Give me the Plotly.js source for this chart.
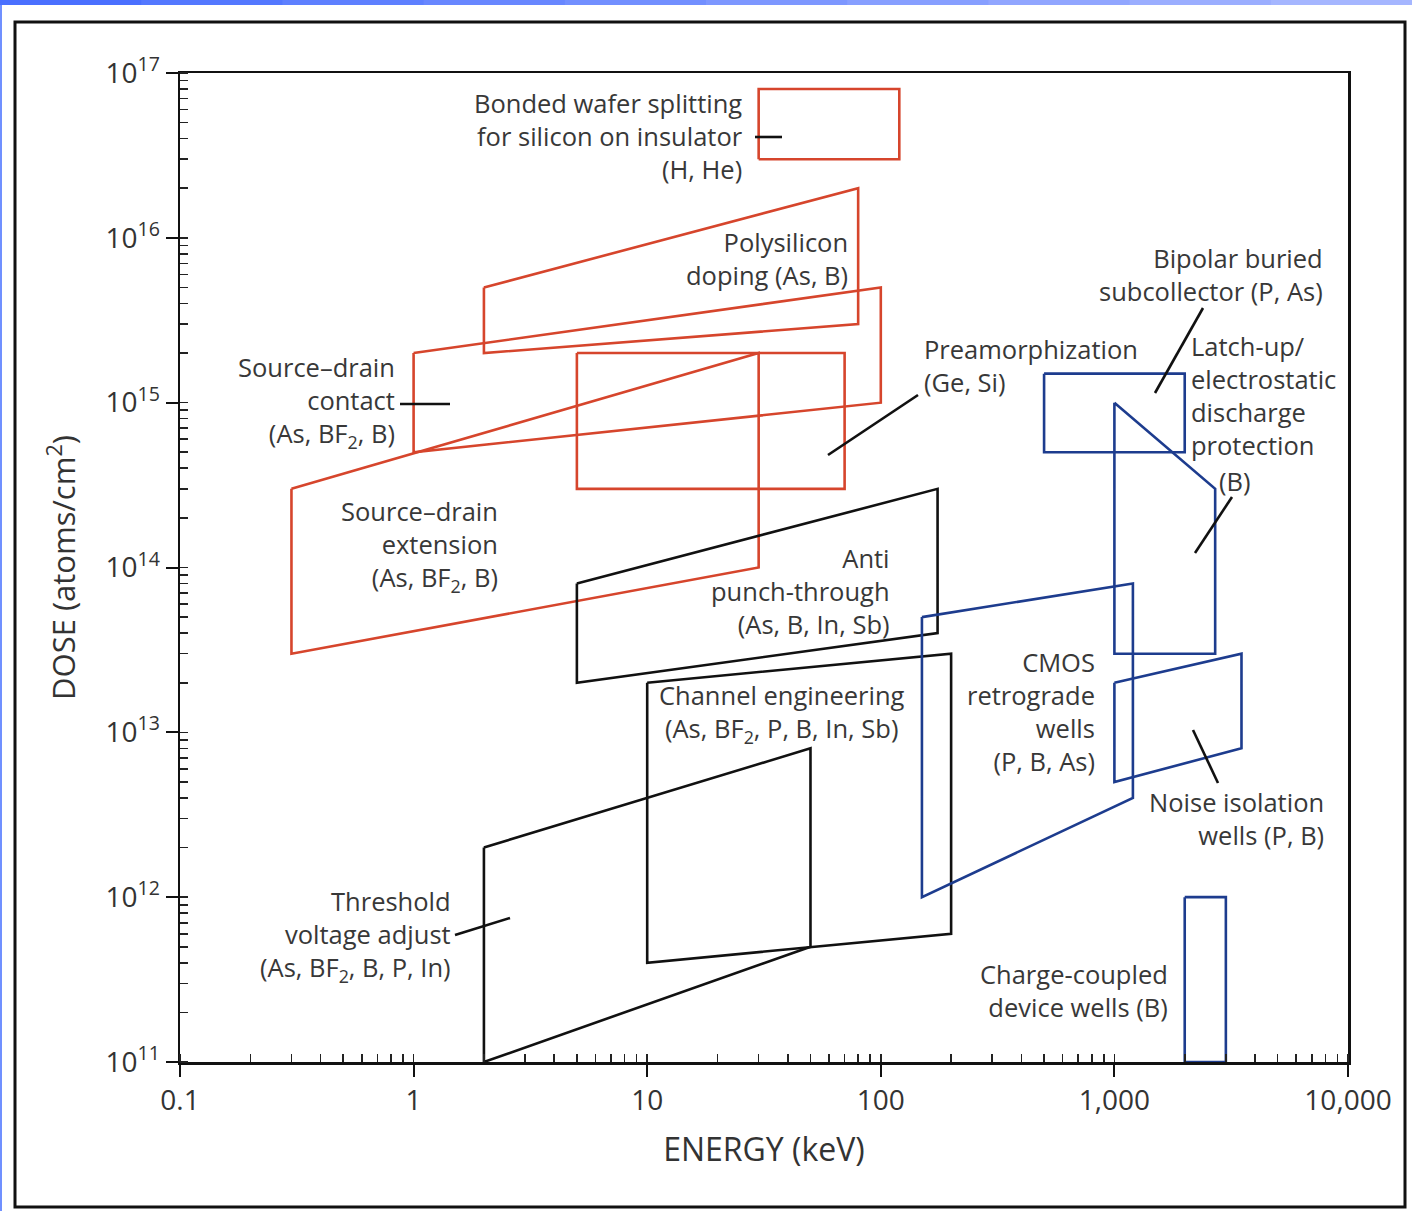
<!DOCTYPE html>
<html><head><meta charset="utf-8">
<script src="https://cdn.plot.ly/plotly-3.0.1.min.js"></script>
<style>html,body{margin:0;padding:0;background:#fff;} #chart{width:1412px;height:1211px;}</style>
</head><body><div id="chart"></div>
<script>
// ---- axis ticks ----
const xTickVals = [0.1, 1, 10, 100, 1000, 10000];
const xTickText = ['0.1', '1', '10', '100', '1,000', '10,000'];
const yTickVals = [1e11, 1e12, 1e13, 1e14, 1e15, 1e16, 1e17];
const yTickText = ['10<sup>11</sup>', '10<sup>12</sup>', '10<sup>13</sup>', '10<sup>14</sup>', '10<sup>15</sup>', '10<sup>16</sup>', '10<sup>17</sup>'];

// ---- process windows: energy (keV) and dose (atoms/cm^2), polygon vertices ----
const bondedEnergy = [30, 120, 120, 30];
const bondedDose = [3e16, 3e16, 8e16, 8e16];
const polyEnergy = [2, 80, 80, 2];
const polyDose = [5e15, 2e16, 3e15, 2e15];
const sdContactEnergy = [1, 100, 100, 1];
const sdContactDose = [2e15, 5e15, 1e15, 5e14];
const sdExtEnergy = [0.3, 30, 30, 0.3];
const sdExtDose = [3e14, 2e15, 1e14, 3e13];
const preamEnergy = [5, 70, 70, 5];
const preamDose = [2e15, 2e15, 3e14, 3e14];
const antiEnergy = [5, 175, 175, 5];
const antiDose = [8e13, 3e14, 4e13, 2e13];
const channelEnergy = [10, 200, 200, 10];
const channelDose = [2e13, 3e13, 6e11, 4e11];
const thresholdEnergy = [2, 50, 50, 2];
const thresholdDose = [2e12, 8e12, 5e11, 1e11];
const bipolarEnergy = [500, 2000, 2000, 500];
const bipolarDose = [1.5e15, 1.5e15, 5e14, 5e14];
const latchEnergy = [1000, 2700, 2700, 1000];
const latchDose = [1e15, 3e14, 3e13, 3e13];
const cmosEnergy = [150, 1200, 1200, 150];
const cmosDose = [5e13, 8e13, 4e12, 1e12];
const noiseEnergy = [1000, 3500, 3500, 1000];
const noiseDose = [2e13, 3e13, 8e12, 5e12];
const ccdEnergy = [2000, 3000, 3000, 2000];
const ccdDose = [1e12, 1e12, 1e11, 1e11];

const RED = '#d6452c', BLUE = '#1d3c8e', BLACK = '#111111';
const FONT = '"Open Sans", sans-serif';

function poly(ex, dy, color, name) {
  return {
    x: ex.concat([ex[0]]), y: dy.concat([dy[0]]), name: name,
    type: 'scatter', mode: 'lines', showlegend: false, hoverinfo: 'skip',
    line: {color: color, width: 2.6}
  };
}

const traces = [
  poly(bondedEnergy, bondedDose, RED, 'Bonded wafer splitting'),
  poly(polyEnergy, polyDose, RED, 'Polysilicon doping'),
  poly(sdContactEnergy, sdContactDose, RED, 'Source-drain contact'),
  poly(sdExtEnergy, sdExtDose, RED, 'Source-drain extension'),
  poly(preamEnergy, preamDose, RED, 'Preamorphization'),
  poly(antiEnergy, antiDose, BLACK, 'Anti punch-through'),
  poly(channelEnergy, channelDose, BLACK, 'Channel engineering'),
  poly(thresholdEnergy, thresholdDose, BLACK, 'Threshold voltage adjust'),
  poly(bipolarEnergy, bipolarDose, BLUE, 'Bipolar buried subcollector'),
  poly(latchEnergy, latchDose, BLUE, 'Latch-up / ESD protection'),
  poly(cmosEnergy, cmosDose, BLUE, 'CMOS retrograde wells'),
  poly(noiseEnergy, noiseDose, BLUE, 'Noise isolation wells'),
  poly(ccdEnergy, ccdDose, BLUE, 'Charge-coupled device wells')
];

// ---- label placement (plot-area geometry) ----
const ML = 180, MT = 73, PW = 1168, PH = 989;
const px = v => (v - ML) / PW;           // pixel column -> paper x
const py = v => (MT + PH - v) / PH;      // pixel row    -> paper y

const TXT = '#383838';
const FS = 25.5;
// each block: text, anchor x (pixel), anchor side, centre row (pixel)
const labelBlocks = [
  {text: 'Bonded wafer splitting<br>for silicon on insulator<br>(H, He)', x: 745, side: 'right', row: 136},
  {text: 'Polysilicon<br>doping (As, B)', x: 850, side: 'right', row: 258},
  {text: 'Source\u2013drain<br>contact<br>(As, BF<sub>2</sub>, B)', x: 397, side: 'right', row: 402},
  {text: 'Source\u2013drain<br>extension<br>(As, BF<sub>2</sub>, B)', x: 500, side: 'right', row: 546},
  {text: 'Preamorphization<br>(Ge, Si)', x: 922, side: 'left', row: 365},
  {text: 'Bipolar buried<br>subcollector (P, As)', x: 1325, side: 'right', row: 274},
  {text: 'Latch-up/<br>electrostatic<br>discharge<br>protection', x: 1189, side: 'left', row: 395},
  {text: '(B)', x: 1235, side: 'center', row: 481},
  {text: 'Anti<br>punch-through<br>(As, B, In, Sb)', x: 892, side: 'right', row: 591},
  {text: 'Channel engineering<br>(As, BF<sub>2</sub>, P, B, In, Sb)', x: 782, side: 'center', row: 714},
  {text: 'CMOS<br>retrograde<br>wells<br>(P, B, As)', x: 1097, side: 'right', row: 711},
  {text: 'Noise isolation<br>wells (P, B)', x: 1326, side: 'right', row: 818},
  {text: 'Threshold<br>voltage adjust<br>(As, BF<sub>2</sub>, B, P, In)', x: 453, side: 'right', row: 936},
  {text: 'Charge-coupled<br>device wells (B)', x: 1170, side: 'right', row: 990}
];
// leader lines: from (x0,y0) near the text to (x1,y1) inside the window, pixels
const leaders = [
  [755, 137, 782, 137],
  [400, 404, 450, 404],
  [918, 395, 828, 455],
  [1203, 308, 1155, 393],
  [1232, 497, 1195, 553],
  [1218, 783, 1193, 730],
  [455, 935, 510, 918]
];

const annotations = labelBlocks.map(b => ({
  text: b.text, x: px(b.x), y: py(b.row), xref: 'paper', yref: 'paper',
  xanchor: b.side, yanchor: 'middle', align: b.side, showarrow: false,
  font: {family: FONT, size: FS, color: TXT}
}));

// decorative frame, top bar and leader lines (paper coordinates)
const shapes = [
  {type: 'rect', xref: 'paper', yref: 'paper', x0: px(15), x1: px(1405), y0: py(1207), y1: py(22),
   line: {color: '#111', width: 3}, fillcolor: 'rgba(0,0,0,0)', layer: 'below'},
  {type: 'rect', xref: 'paper', yref: 'paper', x0: px(0), x1: px(2), y0: py(1211), y1: py(0),
   line: {width: 0}, fillcolor: '#7090ff'}
];
leaders.forEach(l => {
  shapes.push({type: 'line', xref: 'paper', yref: 'paper', x0: px(l[0]), y0: py(l[1]), x1: px(l[2]), y1: py(l[3]),
    line: {color: BLACK, width: 2.6}});
});
const nSeg = 10;
for (let i = 0; i < nSeg; i++) {
  const t = i / (nSeg - 1);
  const r = Math.round(74 + t * (165 - 74)), g = Math.round(112 + t * (182 - 112)), b = 255;
  shapes.push({type: 'rect', xref: 'paper', yref: 'paper',
    x0: px(1412 * i / nSeg), x1: px(1412 * (i + 1) / nSeg + 1), y0: py(5), y1: py(0),
    line: {width: 0}, fillcolor: `rgb(${r},${g},${b})`});
}

const tickFont = {family: FONT, size: 28, color: '#333'};
const layout = {
  width: 1412, height: 1211,
  margin: {l: ML, r: 1412 - ML - PW, t: MT, b: 1211 - MT - PH, pad: 0},
  paper_bgcolor: '#ffffff', plot_bgcolor: '#ffffff',
  showlegend: false, hovermode: false,
  xaxis: {
    type: 'log', range: [-1, 4], showgrid: false, zeroline: false,
    showline: true, linecolor: '#111', linewidth: 2.5, mirror: true,
    tickmode: 'array', tickvals: xTickVals, ticktext: xTickText,
    ticks: 'outside', ticklen: 12, tickwidth: 2, tickcolor: '#111',
    tickfont: tickFont,
    minor: {ticks: 'inside', ticklen: 8, tickwidth: 1.6, tickcolor: '#222', dtick: 'D1', showgrid: false},
    title: {text: 'ENERGY (keV)', font: {family: FONT, size: 32, color: '#333'}, standoff: 22}
  },
  yaxis: {
    type: 'log', range: [11, 17], showgrid: false, zeroline: false,
    showline: true, linecolor: '#111', linewidth: 2.5, mirror: true,
    tickmode: 'array', tickvals: yTickVals, ticktext: yTickText,
    ticks: 'outside', ticklen: 12, tickwidth: 2, tickcolor: '#111',
    tickfont: tickFont,
    minor: {ticks: 'inside', ticklen: 8, tickwidth: 1.6, tickcolor: '#222', dtick: 'D1', showgrid: false},
    title: {text: 'DOSE (atoms/cm<sup>2</sup>)', font: {family: FONT, size: 31, color: '#333'}, standoff: 21}
  },
  annotations: annotations,
  shapes: shapes
};

Plotly.newPlot('chart', traces, layout, {staticPlot: true, displayModeBar: false});
</script>
</body></html>
